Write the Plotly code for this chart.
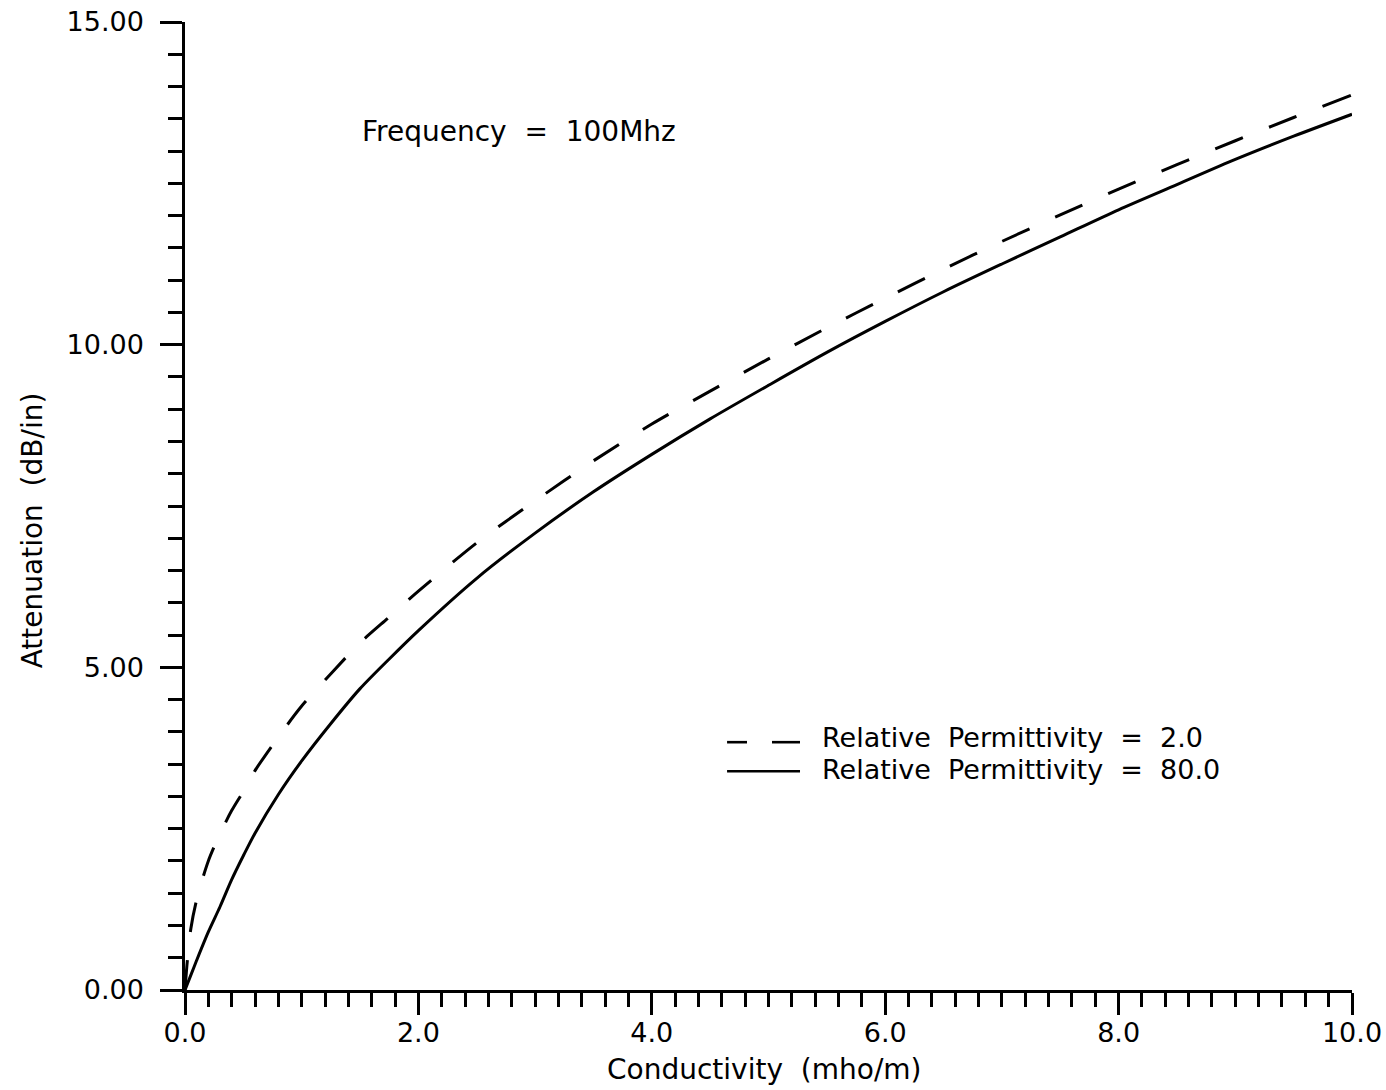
import plotly.graph_objects as go

# Conductivity (mho/m)
sigma_eps2 = [0, 0.02, 0.05, 0.1, 0.2, 0.3, 0.4, 0.5, 0.6, 0.8, 1.0, 1.25, 1.5, 1.75, 2.0,
              2.5, 3.0, 3.5, 4.0, 4.5, 5.0, 5.5, 6.0, 6.5, 7.0, 7.5, 8.0, 8.5, 9.0, 9.5, 10.0]
atten_eps2 = [0, 0.45, 0.95, 1.40, 2.00, 2.42, 2.78, 3.08, 3.40, 3.92, 4.40, 4.90, 5.38, 5.78, 6.18,
              6.93, 7.58, 8.20, 8.77, 9.28, 9.78, 10.26, 10.72, 11.17, 11.60, 12.01, 12.41, 12.79,
              13.16, 13.52, 13.87]

sigma_eps80 = [0, 0.05, 0.1, 0.2, 0.3, 0.4, 0.5, 0.6, 0.8, 1.0, 1.25, 1.5, 1.75, 2.0,
               2.5, 3.0, 3.5, 4.0, 4.5, 5.0, 5.5, 6.0, 6.5, 7.0, 7.5, 8.0, 8.5, 9.0, 9.5, 10.0]
atten_eps80 = [0, 0.23, 0.46, 0.90, 1.29, 1.71, 2.08, 2.43, 3.03, 3.55, 4.13, 4.67, 5.13, 5.57,
               6.38, 7.08, 7.72, 8.30, 8.85, 9.37, 9.88, 10.36, 10.82, 11.25, 11.67, 12.09, 12.48,
               12.87, 13.23, 13.57]

series_names = ["Relative\u00a0\u00a0Permittivity\u00a0\u00a0=\u00a0\u00a02.0",
                "Relative\u00a0\u00a0Permittivity\u00a0\u00a0=\u00a0\u00a080.0"]
x_title = "Conductivity\u00a0\u00a0(mho/m)"
y_title = "Attenuation\u00a0\u00a0(dB/in)"
note = "Frequency\u00a0\u00a0=\u00a0\u00a0100Mhz"

FONT = "DejaVu Sans"
FS = 28
LFS = 27
TFS = 27

fig = go.Figure()
fig.add_trace(go.Scatter(x=sigma_eps2, y=atten_eps2, mode="lines", name=series_names[0],
                         line=dict(color="black", width=3, dash="30px,28px", shape="spline",
                                   smoothing=0.8), showlegend=False))
fig.add_trace(go.Scatter(x=sigma_eps80, y=atten_eps80, mode="lines", name=series_names[1],
                         line=dict(color="black", width=3, shape="spline", smoothing=0.8),
                         showlegend=False))

# legend drawn like the original plotter key
fig.add_shape(type="line", xref="x", yref="y", x0=4.645, x1=4.816, y0=3.84, y1=3.84,
              line=dict(color="black", width=2.6))
fig.add_shape(type="line", xref="x", yref="y", x0=5.03, x1=5.27, y0=3.84, y1=3.84,
              line=dict(color="black", width=2.6))
fig.add_shape(type="line", xref="x", yref="y", x0=4.645, x1=5.27, y0=3.39, y1=3.39,
              line=dict(color="black", width=2.6))
fig.add_annotation(x=5.44, y=3.91, xref="x", yref="y", text=series_names[0], showarrow=False,
                   xanchor="left", yanchor="middle", font=dict(family=FONT, size=LFS, color="black"))
fig.add_annotation(x=5.44, y=3.42, xref="x", yref="y", text=series_names[1], showarrow=False,
                   xanchor="left", yanchor="middle", font=dict(family=FONT, size=LFS, color="black"))

fig.add_annotation(x=1.50, y=13.30, xref="x", yref="y", text=note, showarrow=False,
                   xanchor="left", yanchor="middle", font=dict(family=FONT, size=FS, color="black"))

fig.add_annotation(x=0.497, y=-0.0826, xref="paper", yref="paper", text=x_title, showarrow=False,
                   xanchor="center", yanchor="middle", font=dict(family=FONT, size=FS, color="black"))
fig.add_annotation(x=-0.131, y=0.475, xref="paper", yref="paper", text=y_title, showarrow=False,
                   textangle=-90, xanchor="center", yanchor="middle",
                   font=dict(family=FONT, size=FS, color="black"))

fig.update_layout(
    width=1386, height=1090,
    margin=dict(l=185, r=34, t=22, b=100, autoexpand=False),
    paper_bgcolor="white", plot_bgcolor="white",
    font=dict(family=FONT, size=TFS, color="black"),
    xaxis=dict(range=[0, 10], showgrid=False, zeroline=False, showline=True, linecolor="black",
               linewidth=2.5, ticks="outside", ticklen=22, tickwidth=2.5, tickcolor="black",
               tick0=0, dtick=2, tickformat=".1f", automargin=False,
               minor=dict(ticks="outside", ticklen=14, tickwidth=2.5, tickcolor="black", dtick=0.2,
                          showgrid=False),
               tickfont=dict(family=FONT, size=TFS, color="black"), ticklabelstandoff=-5),
    yaxis=dict(range=[0, 15], showgrid=False, zeroline=False, showline=True, linecolor="black",
               linewidth=2.5, ticks="outside", ticklen=22, tickwidth=2.5, tickcolor="black",
               tick0=0, dtick=5, tickformat=".2f", automargin=False,
               minor=dict(ticks="outside", ticklen=14, tickwidth=2.5, tickcolor="black", dtick=0.5,
                          showgrid=False),
               tickfont=dict(family=FONT, size=TFS, color="black"), ticklabelstandoff=11),
)

fig.write_html("out.html")
